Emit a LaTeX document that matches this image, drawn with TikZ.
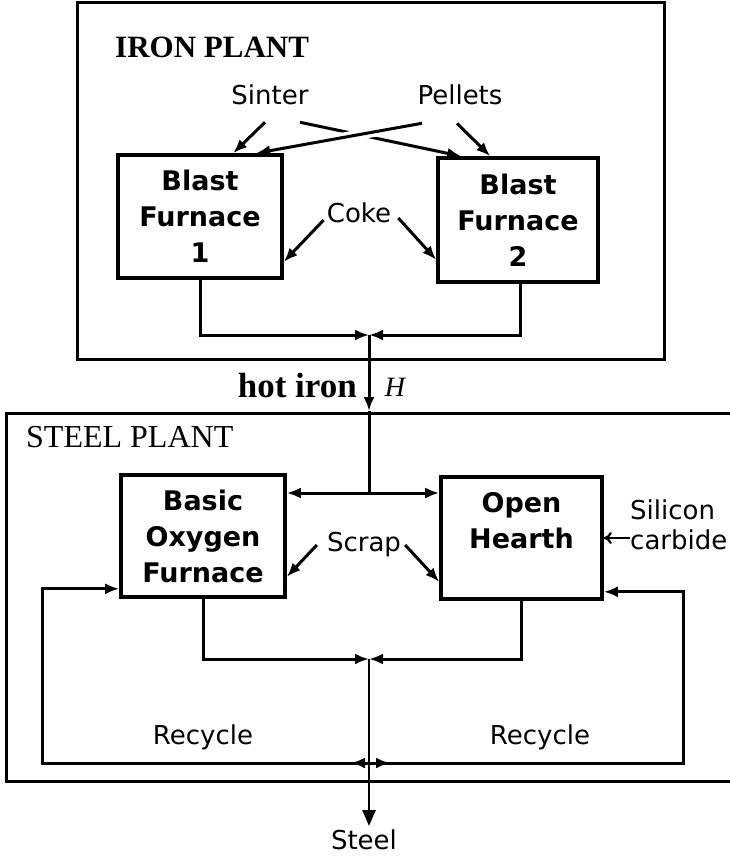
\documentclass[tikz,border=0pt]{standalone}
\usepackage{fontspec}
\setmainfont{Liberation Serif}
\setsansfont{DejaVu Sans}
\usetikzlibrary{arrows.meta,calc}
\begin{document}
\begin{tikzpicture}[x=1pt,y=-1pt,
  lbl/.style={font=\sffamily\fontsize{26}{30}\selectfont, inner sep=0pt},
  furn/.style={draw, line width=3.6pt, font=\sffamily\bfseries\fontsize{27}{36}\selectfont, align=center, inner sep=0pt},
  conn/.style={line width=3pt, -{Latex[length=14pt,width=11pt]}},
  plainline/.style={line width=3pt},
  plantbox/.style={line width=3pt},
  outarrow/.style={line width=2.6pt, -{Triangle[length=16pt,width=13pt]}},
  titlebold/.style={font=\rmfamily\bfseries\fontsize{31}{31}\selectfont, inner sep=0pt},
  titlereg/.style={font=\rmfamily\fontsize{32}{32}\selectfont, inner sep=0pt},
]
\useasboundingbox (0,0) rectangle (729,856);

% plant enclosures
\draw[plantbox] (77,3) rectangle (664,359);
\draw[plantbox] (731,413) -- (6,413) -- (6,781) -- (731,781);

% titles
\node[titlebold, anchor=west] (ironlbl) at (115,47) {IRON PLANT};
\node[titlereg, anchor=west] (steellbl) at (26,437) {STEEL PLANT};

% process boxes
\node[furn, minimum width=164pt, minimum height=123pt] (bf1) at (200,216.5) {Blast\\Furnace\\1};
\node[furn, minimum width=160pt, minimum height=124pt] (bf2) at (518,220) {Blast\\Furnace\\2};
\node[furn, minimum width=164pt, minimum height=122pt] (bof) at (203,536) {Basic\\Oxygen\\Furnace};
\node[furn, minimum width=161pt, minimum height=122pt] (oh) at (521.5,538) {Open\\Hearth\\\phantom{X}};

% labels
\node[lbl] (sinter) at (270,95) {Sinter};
\node[lbl] (pellets) at (460,95) {Pellets};
\node[lbl] (coke) at (359,213) {Coke};
\node[lbl] (scrap) at (364,545) {Scrap};
\node[lbl, anchor=west, align=left] (sic) at (630,525) {Silicon\\carbide};
\node[lbl] (rec1) at (203,737) {Recycle};
\node[lbl] (rec2) at (540,737) {Recycle};
\node[lbl] (steel) at (364,840) {Steel};
\node[font=\rmfamily\bfseries\fontsize{35}{35}\selectfont, inner sep=0pt, anchor=east] (hotiron) at (357,386) {hot iron};
\node[font=\rmfamily\itshape\fontsize{28}{28}\selectfont, inner sep=0pt] (hsym) at (395,387) {H};

% junction coordinates
\coordinate (jI) at (369,335);
\coordinate (hin) at (369,411);
\coordinate (jS) at (369,493);
\coordinate (jB) at (369,659);
\coordinate (jR) at (369,763);
\coordinate (rl) at (42,763);
\coordinate (rr) at (683,763);
\coordinate (out) at (369,826);

% raw materials to blast furnaces
\draw[conn] ($(sinter.south)+(-5,17)$) -- ($(bf1.north west)+(117,0)$);
\draw[conn] ($(sinter.south)+(30,17)$) -- ($(bf2.north west)+(25,0)$);
\draw[white, line width=10pt, shorten <=6pt, shorten >=30pt] ($(pellets.south)+(-38,18)$) -- ($(bf1.north west)+(140,0)$);
\draw[conn] ($(pellets.south)+(-38,18)$) -- ($(bf1.north west)+(140,0)$);
\draw[conn] ($(pellets.south)+(-3,18)$) -- ($(bf2.north west)+(54,0)$);
\draw[conn] ($(coke.west)+(-3,7)$) -- ($(bf1.south east)+(0,-18)$);
\draw[conn] ($(coke.east)+(7,5)$) -- ($(bf2.south west)+(0,-24)$);

% blast furnace outputs
\draw[conn] (bf1.south) |- (jI);
\draw[conn] ($(bf2.south)+(2,0)$) |- (jI);
\draw[conn] (jI) -- (hin);
\draw[plainline] (hin) -- (jS);
\draw[conn] (jS) -- (jS -| bof.east);
\draw[conn] (jS) -- (jS -| oh.west);

% scrap and silicon carbide
\draw[conn] ($(scrap.west)+(-10,0)$) -- ($(bof.south east)+(0,-22)$);
\draw[conn] ($(scrap.east)+(4,0)$) -- ($(oh.south west)+(0,-19)$);
\draw[line width=2.2pt, -{To[length=8pt,width=12pt]}] (sic.west |- oh.east) -- (oh.east);

% steel outputs
\draw[conn] (bof.south) |- (jB);
\draw[conn] (oh.south) |- (jB);
\draw[outarrow] (jB) -- (out);

% recycle loops
\draw[conn] (jR) -- (rl) |- ($(bof.south west)+(0,-10)$);
\draw[conn] (jR) -- (rr) |- ($(oh.south east)+(0,-9)$);
\draw[conn] (jR) -- ($(jR)+(-18,0)$);
\draw[conn] (jR) -- ($(jR)+(21,0)$);
\end{tikzpicture}
\end{document}
